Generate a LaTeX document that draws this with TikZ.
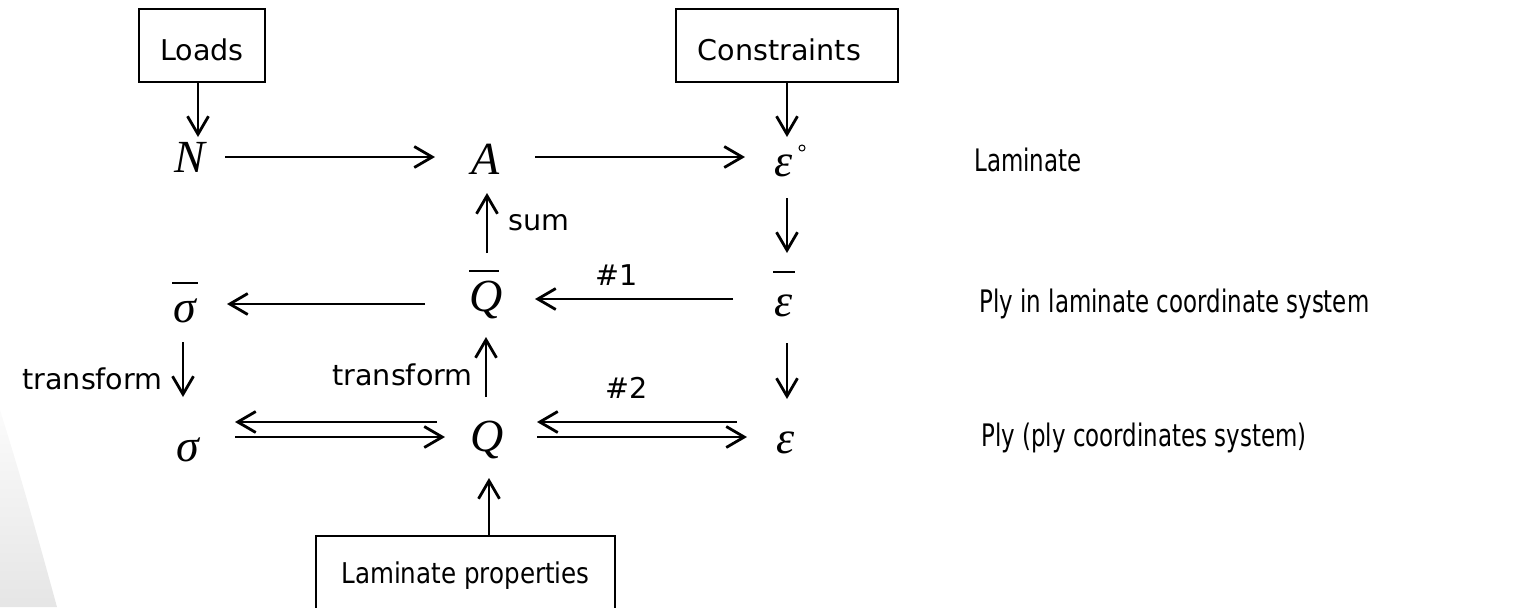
\documentclass[tikz,border=0pt]{standalone}
\usepackage{fontspec}
\setmainfont{DejaVu Sans}
\newfontfamily\tms{Liberation Serif}
\usetikzlibrary{arrows.meta,calc}

\tikzset{
  arr/.style={line width=1.4pt, -{Straight Barb[length=9pt,width=10.5pt]}},
  bar/.style={line width=1.3pt},
  frame/.style={draw, line width=0.9pt, inner sep=0pt, text height=14.5pt, text depth=0pt,
    font=\fontsize{14.3}{17}\selectfont},
  sym/.style={inner sep=0pt, font=\tms\itshape\fontsize{23}{23}\selectfont},
  lbl/.style={inner sep=0pt, anchor=base west, font=\fontsize{14.3}{17}\selectfont},
  caption/.style={lbl, font=\fontsize{15.5}{18}\selectfont},
}

\begin{document}
\begin{tikzpicture}[x=0.5pt,y=-0.5pt]
\useasboundingbox (0,0) rectangle (1515,607);

% grey backdrop sweep at the lower left
\shade[top color=gray!3, bottom color=gray!20]
  (0,410) .. controls (22,480) and (40,545) .. (57,607) -- (0,607) -- cycle;

% input boxes
\node[frame, minimum width=63pt, minimum height=36.5pt] (loads) at (202,45.5) {Loads};
\node[frame, minimum width=111pt, minimum height=36.5pt] (cons) at (787,45.5) {\hspace*{-7.5pt}Constraints};
\node[frame, minimum width=149.5pt, minimum height=36.5pt, text height=10.5pt] (lp) at (465.5,572.5)
  {\scalebox{0.86}[1]{Laminate properties}};

% quantities
\node[sym] (nN)  at (190,157) {N};
\node[sym] (nA)  at (486,159) {A};
\node[sym] (nE0) at (784,166) {ε};
\node[sym] (nSb) at (185,311) {σ};
\node[sym] (nQb) at (486,300) {Q};
\node[sym] (nEb) at (784,306) {ε};
\node[sym] (nS)  at (188,450) {σ};
\node[sym] (nQ)  at (487,440) {Q};
\node[sym] (nE)  at (786,443) {ε};

% degree mark and over-bars
\draw[line width=0.5pt] ($(nE0)+(18,-18)$) circle (3);
\draw[bar] ($(nSb)+(-13,-28)$) -- ($(nSb)+(13,-28)$);
\draw[bar] ($(nQb)+(-17,-29)$) -- ($(nQb)+(13,-29)$);
\draw[bar] ($(nEb)+(-11,-34)$) -- ($(nEb)+(11,-34)$);

% laminate row
\draw[arr] ($(loads.south)+(-4,0)$) -- ($(nN)+(8,-20)$);
\draw[arr] ($(nN)+(35,0)$) -- ($(nA)+(-51,-2)$);
\draw[arr] ($(nA)+(49,-2)$) -- ($(nE0)+(-39,-9)$);
\draw[arr] (cons.south) -- ($(nE0)+(3,-29)$);

% laminate to ply (laminate axes)
\draw[arr] ($(nE0)+(3,32)$) -- ($(nEb)+(3,-53)$);
\draw[arr] ($(nEb)+(-51,-7)$) -- ($(nQb)+(49,-1)$);
\draw[arr] ($(nQb)+(1,-47)$) -- ($(nA)+(1,34)$);
\draw[arr] ($(nQb)+(-61,4)$) -- ($(nSb)+(42,-7)$);

% ply (laminate axes) to ply axes
\draw[arr] ($(nSb)+(-2,31)$) -- ($(nS)+(-5,-53)$);
\draw[arr] ($(nQ)+(-1,-43)$) -- ($(nQb)+(0,37)$);
\draw[arr] ($(nEb)+(3,37)$) -- ($(nE)+(1,-44)$);
\draw[arr] ($(lp.north)+(23.5,0)$) -- ($(nQ)+(2,38)$);

% two-way links in ply axes
\draw[arr] ($(nQ)+(-50,-18)$) -- ($(nS)+(47,-28)$);
\draw[arr] ($(nS)+(47,-13)$) -- ($(nQ)+(-42,-3)$);
\draw[arr] ($(nE)+(-49,-21)$) -- ($(nQ)+(50,-18)$);
\draw[arr] ($(nQ)+(50,-3)$) -- ($(nE)+(-39,-6)$);

% arrow labels
\node[lbl] (tsum) at (508,230) {sum};
\node[lbl] (tone) at (595,285) {\#1};
\node[lbl] (ttwo) at (605,398) {\#2};
\node[lbl] (ttl)  at (22,389)  {transform};
\node[lbl] (ttm)  at (332,385) {transform};

% level captions
\node[caption] (cap1) at (974,171) {\scalebox{0.74}[1]{Laminate}};
\node[caption] (cap2) at (979,312) {\scalebox{0.74}[1]{Ply in laminate coordinate system}};
\node[caption] (cap3) at (981,446) {\scalebox{0.74}[1]{Ply (ply coordinates system)}};
\end{tikzpicture}
\end{document}
